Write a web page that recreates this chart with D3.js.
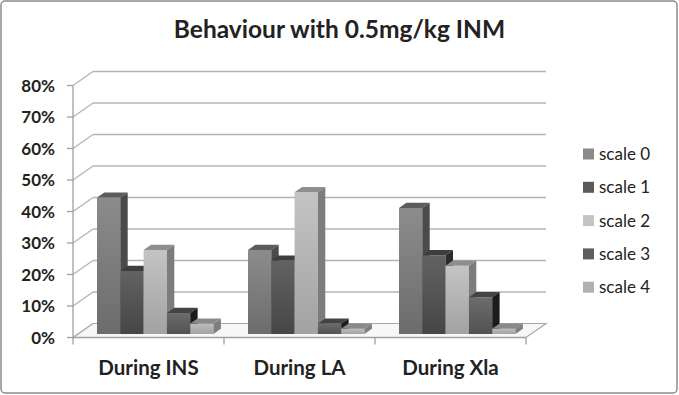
<!DOCTYPE html>
<html>
<head>
<meta charset="utf-8">
<script src="https://cdn.jsdelivr.net/npm/d3@7"></script>
<style>
  body { margin: 0; background: #fff; }
  svg { display: block; font-family: Lato, 'Open Sans', sans-serif; }
</style>
</head>
<body>
<svg id="chart" width="679" height="395"></svg>
<script>
// -----------
// DATOS
// -----------
const titulo = 'Behaviour with 0.5mg/kg INM';
const categorias = ['During INS', 'During LA', 'During Xla'];
const series = ['scale 0', 'scale 1', 'scale 2', 'scale 3', 'scale 4'];
const scale0 = [43.3, 26.7, 40.0];
const scale1 = [20.0, 23.3, 25.0];
const scale2 = [26.7, 45.0, 21.7];
const scale3 = [6.7, 3.3, 11.7];
const scale4 = [3.3, 1.7, 1.7];
const ticksY = [0, 10, 20, 30, 40, 50, 60, 70, 80];

// colores por serie: frente (arriba / abajo), tapa, lado, leyenda
const colores = [
  { f1: '#8c8c8c', f2: '#6c6c6c', top: '#5c5c5c', side: '#4a4a4a', ley: '#8a8a8a' },
  { f1: '#626262', f2: '#464646', top: '#3e3e3e', side: '#2c2c2c', ley: '#5a5a5a' },
  { f1: '#c4c4c4', f2: '#a2a2a2', top: '#8e8e8e', side: '#7c7c7c', ley: '#c4c4c4' },
  { f1: '#6c6c6c', f2: '#525252', top: '#444444', side: '#1c1c1c', ley: '#5e5e5e' },
  { f1: '#bcbcbc', f2: '#a4a4a4', top: '#8a8a8a', side: '#7e7e7e', ley: '#b0b0b0' },
];

const valores = [scale0, scale1, scale2, scale3, scale4];

const svg = d3.select('#chart');
const defs = svg.append('defs');

// -----------
// ESCALAS
// -----------
const x0 = d3.scaleBand().domain(categorias).range([73, 526]);
const x1 = d3.scaleBand().domain(series).range([19, 135.5]);
const y = d3.scaleLinear().domain([0, 80]).range([337.5, 85.5]);

// desplazamiento de profundidad (pared del fondo)
const DX = 20;
const DY = -14;
const tFront = 0.25;
const tBack = 0.62;

function pt(x, v, t) {
  return [x + t * DX, y(v) + t * DY];
}
function poly(pts) {
  return pts.map((p) => p.join(',')).join(' ');
}

// borde del grafico
svg.append('rect')
  .attr('x', 1).attr('y', 1)
  .attr('width', 676).attr('height', 392)
  .attr('rx', 4)
  .attr('fill', '#fff')
  .attr('stroke', '#8c8c8c')
  .attr('stroke-width', 1.5);

// titulo
svg.append('text')
  .attr('x', 339.5).attr('y', 38)
  .attr('text-anchor', 'middle')
  .attr('font-size', 24.5)
  .attr('font-weight', 'bold')
  .attr('fill', '#222')
  .text(titulo);

// -----------
// PAREDES Y PISO
// -----------
const xMin = x0.range()[0];
const xMax = x0.range()[1];

svg.append('polygon')
  .attr('points', poly([pt(xMin, 0, 0), pt(xMax, 0, 0), pt(xMax, 0, 1), pt(xMin, 0, 1)]))
  .attr('fill', '#f7f7f7')
  .attr('stroke', '#a6a6a6')
  .attr('stroke-width', 1.2);

const grid = svg.append('g').attr('stroke', '#b4b4b4').attr('stroke-width', 1.3).attr('fill', 'none');
ticksY.forEach((t) => {
  if (t > 0) {
    grid.append('line')
      .attr('x1', pt(xMin, t, 1)[0]).attr('y1', pt(xMin, t, 1)[1])
      .attr('x2', pt(xMax, t, 1)[0]).attr('y2', pt(xMax, t, 1)[1]);
  }
  grid.append('line')
    .attr('x1', xMin).attr('y1', y(t))
    .attr('x2', pt(xMin, t, 1)[0]).attr('y2', pt(xMin, t, 1)[1]);
});

// eje Y
const ejeY = svg.append('g').attr('stroke', '#a0a0a0').attr('stroke-width', 1.3);
ejeY.append('line').attr('x1', xMin).attr('x2', xMin).attr('y1', y(0) + 1).attr('y2', y(80));
ticksY.forEach((t) => {
  ejeY.append('line').attr('x1', xMin - 6).attr('x2', xMin).attr('y1', y(t)).attr('y2', y(t));
});
svg.append('g').selectAll('text')
  .data(ticksY)
  .join('text')
  .attr('x', 55)
  .attr('y', (d) => y(d))
  .attr('dy', '0.36em')
  .attr('text-anchor', 'end')
  .attr('font-size', 17)
  .attr('font-weight', 'bold')
  .attr('fill', '#222')
  .text((d) => `${d}%`);

// eje X
const ejeX = svg.append('g').attr('stroke', '#a0a0a0').attr('stroke-width', 1.3);
ejeX.append('line').attr('x1', xMin).attr('x2', xMax).attr('y1', y(0)).attr('y2', y(0));
[...categorias.map((c) => x0(c)), xMax].forEach((xx) => {
  ejeX.append('line').attr('x1', xx).attr('x2', xx).attr('y1', y(0)).attr('y2', y(0) + 7);
});
svg.append('g').selectAll('text')
  .data(categorias)
  .join('text')
  .attr('x', (d) => x0(d) + x0.bandwidth() / 2)
  .attr('y', 374.5)
  .attr('text-anchor', 'middle')
  .attr('font-size', 20.5)
  .attr('font-weight', 'bold')
  .attr('fill', '#222')
  .text((d) => d);

// -----------
// BARRAS 3D
// -----------
series.forEach((s, i) => {
  defs.append('linearGradient')
    .attr('id', `grad${i}`)
    .attr('x1', 0).attr('y1', 0).attr('x2', 0).attr('y2', 1)
    .call((g) => {
      g.append('stop').attr('offset', '0%').attr('stop-color', colores[i].f1);
      g.append('stop').attr('offset', '100%').attr('stop-color', colores[i].f2);
    });
});

const barras = svg.append('g');
categorias.forEach((c, ci) => {
  series.forEach((s, si) => {
    const v = valores[si][ci];
    const xa = x0(c) + x1(s);
    const xb = xa + x1.bandwidth();
    const g = barras.append('g');
    g.append('polygon')
      .attr('points', poly([pt(xa, 0, tFront), pt(xb, 0, tFront), pt(xb, v, tFront), pt(xa, v, tFront)]))
      .attr('fill', `url(#grad${si})`);
    g.append('polygon')
      .attr('points', poly([pt(xa, v, tFront), pt(xb, v, tFront), pt(xb, v, tBack), pt(xa, v, tBack)]))
      .attr('fill', colores[si].top);
    g.append('polygon')
      .attr('points', poly([pt(xb, 0, tFront), pt(xb, v, tFront), pt(xb, v, tBack), pt(xb, 0, tBack)]))
      .attr('fill', colores[si].side);
  });
});

// -----------
// LEYENDA
// -----------
const leyenda = svg.append('g').selectAll('g')
  .data(series)
  .join('g')
  .attr('transform', (d, i) => `translate(583, ${154 + i * 33.3})`);
leyenda.append('rect')
  .attr('x', 0).attr('y', -5.5)
  .attr('width', 11).attr('height', 11)
  .attr('fill', (d, i) => colores[i].ley);
leyenda.append('text')
  .attr('x', 16).attr('y', 0)
  .attr('dy', '0.36em')
  .attr('font-size', 17)
  .attr('fill', '#222')
  .text((d) => d);
</script>
</body>
</html>
